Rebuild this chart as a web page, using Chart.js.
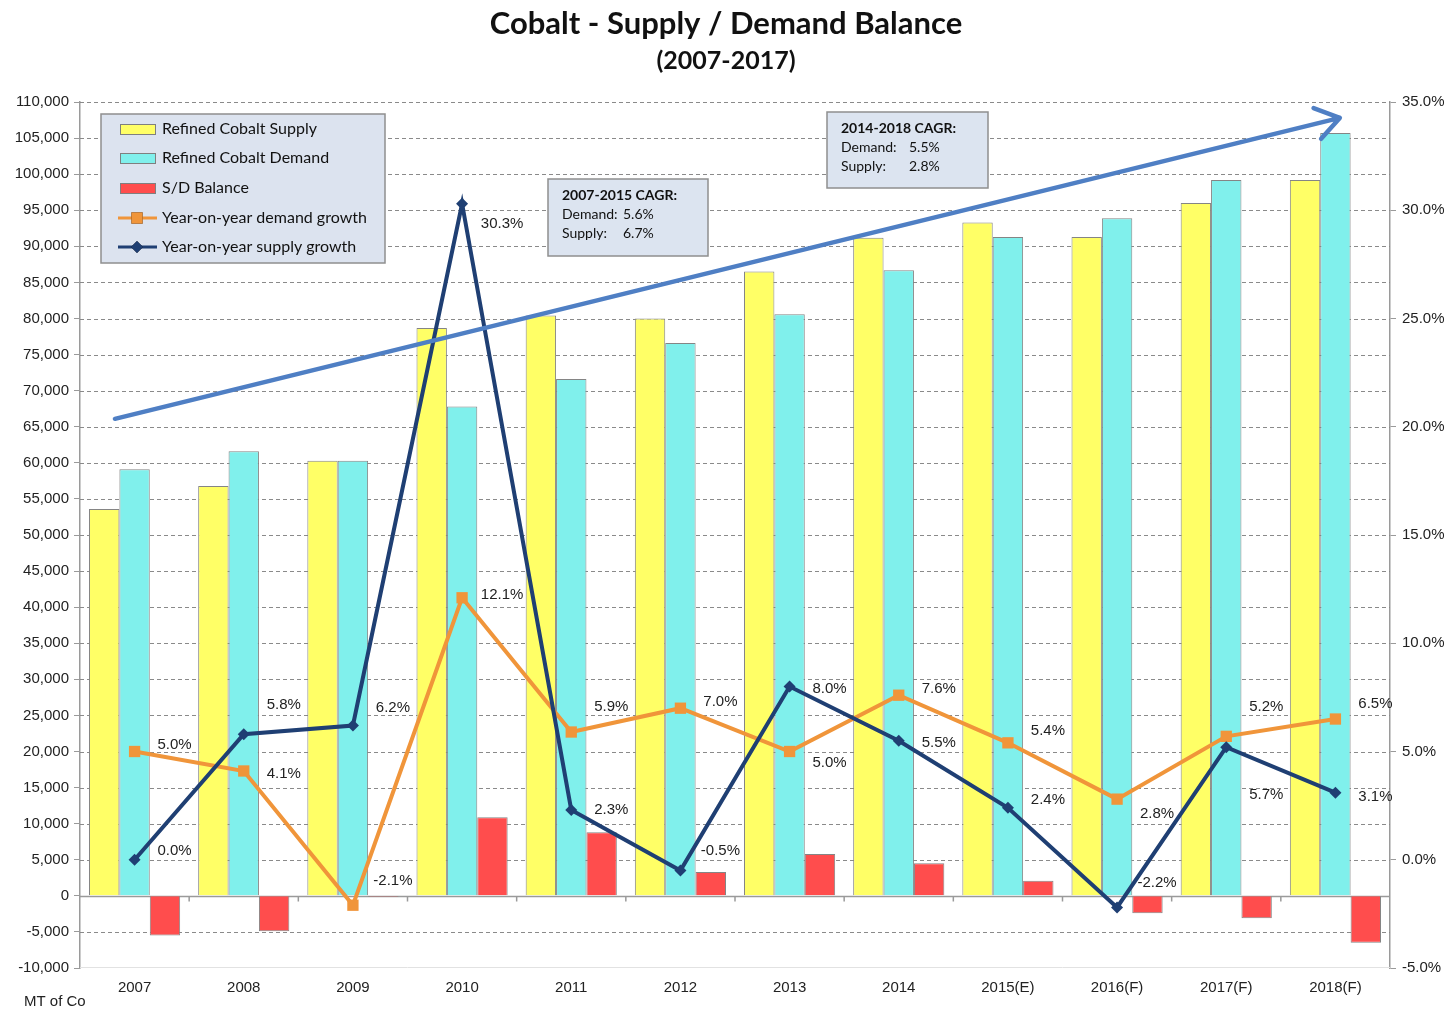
<!DOCTYPE html>
<html>
<head>
<meta charset="utf-8">
<script src="https://cdn.jsdelivr.net/npm/chart.js@4.4.0/dist/chart.umd.min.js"></script>
<style>
  html, body { margin: 0; padding: 0; background: #fff; }
  canvas { display: block; }
</style>
</head>
<body>
<canvas id="chart" width="1455" height="1010"></canvas>
<script>
// data
const categories = ['2007', '2008', '2009', '2010', '2011', '2012', '2013', '2014', '2015(E)', '2016(F)', '2017(F)', '2018(F)']
const supply = [53600, 56800, 60300, 78700, 80400, 80000, 86500, 91200, 93300, 91300, 96000, 99200]
const demand = [59100, 61600, 60300, 67800, 71600, 76600, 80600, 86700, 91300, 93900, 99200, 105700]
const balance = [-5500, -4900, -150, 10900, 8800, 3300, 5800, 4500, 2100, -2400, -3100, -6500]
const demandGrowth = [5.0, 4.1, -2.1, 12.1, 5.9, 7.0, 5.0, 7.6, 5.4, 2.8, 5.7, 6.5]
const supplyGrowth = [0.0, 5.8, 6.2, 30.3, 2.3, -0.5, 8.0, 5.5, 2.4, -2.2, 5.2, 3.1]

// label nudges (px) so the value labels sit where the original put them
const demandLabelShift = [-7, 3, -24, -3, -25, -6, 11, -6, -12, 15, 59, -15]
const supplyLabelShift = [-9, -29, -18, 20, 0, -20, 2, 2, -8, -25, -40, 4]

const cagrBoxes = [
    { title: '2007-2015 CAGR:', demand: '5.6%', supply: '6.7%', x: 548, y: 179, w: 160, h: 77, valX: 61 },
    { title: '2014-2018 CAGR:', demand: '5.5%', supply: '2.8%', x: 827, y: 112, w: 161, h: 76, valX: 68 },
]

const YELLOW = '#ffff66'
const CYAN = '#80f0ec'
const RED = '#ff4d4d'
const ORANGE = '#f0953a'
const NAVY = '#1f3f73'
const AXIS_FONT = { family: 'Liberation Sans, Arial', size: 15 }

const gridPlugin = {
    id: 'grid',
    beforeDatasetsDraw(chart) {
        const { ctx, chartArea: a, scales: { x, y } } = chart
        ctx.save()
        ctx.lineWidth = 1
        ctx.strokeStyle = '#8a8a8a'
        ctx.setLineDash([4, 3])
        y.ticks.forEach(t => {
            if (t.value === 0 || t.value === y.min) return
            const py = Math.round(y.getPixelForValue(t.value)) + 0.5
            ctx.beginPath()
            ctx.moveTo(a.left, py)
            ctx.lineTo(a.right, py)
            ctx.stroke()
        })
        ctx.setLineDash([])
        // faint bottom line
        ctx.strokeStyle = '#e2e2e2'
        ctx.beginPath()
        ctx.moveTo(a.left, a.bottom - 0.5)
        ctx.lineTo(a.right, a.bottom - 0.5)
        ctx.stroke()
        // zero line with category ticks
        const zy = Math.round(y.getPixelForValue(0)) + 0.5
        ctx.strokeStyle = '#9a9a9a'
        ctx.lineWidth = 1.5
        ctx.beginPath()
        ctx.moveTo(a.left, zy)
        ctx.lineTo(a.right, zy)
        for (let i = 0; i < categories.length - 1; i++) {
            const bx = (x.getPixelForValue(i) + x.getPixelForValue(i + 1)) / 2
            ctx.moveTo(bx, zy)
            ctx.lineTo(bx, zy + 5)
        }
        ctx.stroke()
        ctx.restore()
    },
}

const labelPlugin = {
    id: 'valueLabels',
    afterDatasetsDraw(chart) {
        const { ctx } = chart
        ctx.save()
        ctx.font = '15px "Liberation Sans", Arial'
        ctx.fillStyle = '#222'
        ctx.textAlign = 'center'
        ctx.textBaseline = 'middle'
        const sets = [[3, demandGrowth, demandLabelShift], [4, supplyGrowth, supplyLabelShift]]
        sets.forEach(([idx, vals, shift]) => {
            chart.getDatasetMeta(idx).data.forEach((pt, i) => {
                ctx.fillText(vals[i].toFixed(1) + '%', pt.x + 40, pt.y + shift[i])
            })
        })
        ctx.restore()
    },
}

const arrowPlugin = {
    id: 'trendArrow',
    afterDatasetsDraw(chart) {
        const { ctx, scales: { x, y } } = chart
        const x0 = x.getPixelForValue(-0.18), y0 = y.getPixelForValue(66100)
        const x1 = x.getPixelForValue(11.04), y1 = y.getPixelForValue(107800)
        const ang = Math.atan2(y1 - y0, x1 - x0)
        const len = 28
        ctx.save()
        ctx.strokeStyle = '#4f7fc4'
        ctx.lineWidth = 4.5
        ctx.lineCap = 'round'
        ctx.lineJoin = 'round'
        ctx.beginPath()
        ctx.moveTo(x0, y0)
        ctx.lineTo(x1, y1)
        ctx.moveTo(x1 - len * Math.cos(ang - 0.6), y1 - len * Math.sin(ang - 0.6))
        ctx.lineTo(x1, y1)
        ctx.lineTo(x1 - len * Math.cos(ang + 0.6), y1 - len * Math.sin(ang + 0.6))
        ctx.stroke()
        ctx.restore()
    },
}

const decorPlugin = {
    id: 'decor',
    afterDraw(chart) {
        const { ctx } = chart
        ctx.save()
        // title
        ctx.fillStyle = '#111'
        ctx.textAlign = 'center'
        ctx.textBaseline = 'middle'
        ctx.font = 'bold 31px Lato'
        ctx.fillText('Cobalt - Supply / Demand Balance', 726, 24)
        ctx.font = 'bold 25px Lato'
        ctx.fillText('(2007-2017)', 726, 61)

        // unit label
        ctx.textAlign = 'left'
        ctx.font = '15px "Liberation Sans", Arial'
        ctx.fillStyle = '#222'
        ctx.fillText('MT of Co', 24, 1002)

        // legend
        ctx.fillStyle = '#dce3ef'
        ctx.strokeStyle = '#8f8f8f'
        ctx.lineWidth = 1.5
        ctx.fillRect(101, 114, 284, 149)
        ctx.strokeRect(101, 114, 284, 149)
        const rows = [129, 158, 188, 218, 247]
        chart.data.datasets.forEach((ds, i) => {
            const ry = rows[i]
            if (ds.type === 'bar') {
                ctx.fillStyle = ds.backgroundColor
                ctx.strokeStyle = '#7f7f7f'
                ctx.lineWidth = 1
                ctx.fillRect(120, ry - 5, 36, 10)
                ctx.strokeRect(120.5, ry - 4.5, 35, 10)
            } else {
                ctx.strokeStyle = ds.borderColor
                ctx.lineWidth = 3
                ctx.beginPath()
                ctx.moveTo(118, ry)
                ctx.lineTo(157, ry)
                ctx.stroke()
                Chart.helpers.drawPoint(ctx, { pointStyle: ds.pointStyle, radius: ds.pointRadius, borderWidth: 0 }, 137, ry)
                ctx.fillStyle = ds.borderColor
                ctx.fill()
            }
            ctx.fillStyle = '#111'
            ctx.font = '16px Lato'
            ctx.textBaseline = 'middle'
            ctx.fillText(ds.label, 162, ry)
        })

        // CAGR boxes
        cagrBoxes.forEach(b => {
            ctx.fillStyle = '#dce4f0'
            ctx.strokeStyle = '#8f8f8f'
            ctx.lineWidth = 1.5
            ctx.fillRect(b.x, b.y, b.w, b.h)
            ctx.strokeRect(b.x, b.y, b.w, b.h)
            const tx = b.x + 14
            ctx.fillStyle = '#111'
            ctx.font = 'bold 14px Lato'
            ctx.fillText(b.title, tx, b.y + 16)
            ctx.font = '14px Lato'
            ctx.fillText('Demand:', tx, b.y + 35)
            ctx.fillText(b.demand, tx + b.valX, b.y + 35)
            ctx.fillText('Supply:', tx, b.y + 54)
            ctx.fillText(b.supply, tx + b.valX, b.y + 54)
        })
        ctx.restore()
    },
}

new Chart(document.getElementById('chart'), {
    data: {
        labels: categories,
        datasets: [
            {
                type: 'bar', label: 'Refined Cobalt Supply', data: supply, yAxisID: 'y', order: 2,
                backgroundColor: YELLOW, borderColor: '#858585', borderWidth: 1,
            },
            {
                type: 'bar', label: 'Refined Cobalt Demand', data: demand, yAxisID: 'y', order: 3,
                backgroundColor: CYAN, borderColor: '#858585', borderWidth: 1,
            },
            {
                type: 'bar', label: 'S/D Balance', data: balance, yAxisID: 'y', order: 4,
                backgroundColor: RED, borderColor: '#858585', borderWidth: 1,
            },
            {
                type: 'line', label: 'Year-on-year demand growth', data: demandGrowth, yAxisID: 'y2', order: 1,
                borderColor: ORANGE, backgroundColor: ORANGE, borderWidth: 4, tension: 0,
                pointStyle: 'rect', pointRadius: 8, pointBackgroundColor: ORANGE, pointBorderWidth: 0,
            },
            {
                type: 'line', label: 'Year-on-year supply growth', data: supplyGrowth, yAxisID: 'y2', order: 0,
                borderColor: NAVY, backgroundColor: NAVY, borderWidth: 4, tension: 0,
                pointStyle: 'rectRot', pointRadius: 6, pointBackgroundColor: NAVY, pointBorderWidth: 0,
            },
        ],
    },
    options: {
        responsive: false,
        animation: false,
        devicePixelRatio: 1,
        layout: { padding: { top: 102, left: 0, right: 0, bottom: 0 } },
        datasets: { bar: { categoryPercentage: 0.835, barPercentage: 1.0 } },
        plugins: {
            legend: { display: false },
            tooltip: { enabled: false },
        },
        scales: {
            x: {
                type: 'category',
                offset: true,
                grid: { display: false },
                border: { display: false },
                ticks: { font: AXIS_FONT, color: '#222', padding: 3, maxRotation: 0 },
                afterFit: s => { s.height = 42 },
            },
            y: {
                position: 'left',
                min: -10000,
                max: 110000,
                grid: { drawOnChartArea: false, drawTicks: true, tickLength: 6, tickColor: '#9a9a9a' },
                border: { display: true, color: '#9a9a9a', width: 1.5 },
                ticks: {
                    stepSize: 5000,
                    font: AXIS_FONT,
                    color: '#222',
                    padding: 5,
                    callback: v => v.toLocaleString('en-US'),
                },
                afterFit: s => { s.width = 80 },
            },
            y2: {
                position: 'right',
                min: -5,
                max: 35,
                grid: { drawOnChartArea: false, drawTicks: true, tickLength: 6, tickColor: '#9a9a9a' },
                border: { display: true, color: '#9a9a9a', width: 1.5 },
                ticks: {
                    stepSize: 5,
                    font: AXIS_FONT,
                    color: '#222',
                    padding: 6,
                    callback: v => v.toFixed(1) + '%',
                },
                afterFit: s => { s.width = 65 },
            },
        },
    },
    plugins: [gridPlugin, labelPlugin, arrowPlugin, decorPlugin],
})
</script>
</body>
</html>
